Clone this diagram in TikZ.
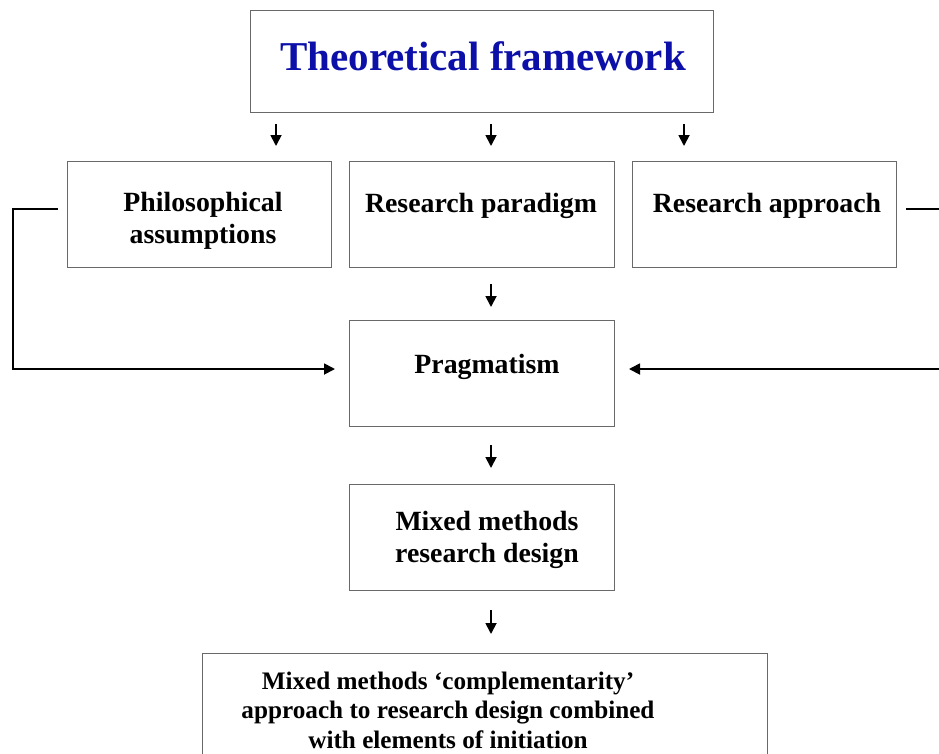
\documentclass[tikz,border=0pt]{standalone}
\usepackage{fontspec}
\setmainfont{Liberation Serif}
\usetikzlibrary{arrows.meta,calc}
\definecolor{titleblue}{RGB}{12,16,168}
\definecolor{boxgray}{RGB}{105,105,105}
\begin{document}
\begin{tikzpicture}[x=1pt,y=-1pt,
  box/.style={draw=boxgray,line width=1pt,rectangle,inner sep=0pt,anchor=north west},
  lbl/.style={font=\bfseries\fontsize{27.8}{32}\selectfont,align=center,anchor=base,inner sep=0pt},
  small/.style={font=\bfseries\fontsize{25.2}{29.5}\selectfont},
  arr/.style={line width=1.8pt,-{Triangle[length=11pt,width=11pt]}}]
\useasboundingbox (0,0) rectangle (939,753);

% boxes
\node[box,minimum width=463,minimum height=102] (tf) at (250,10) {};
\node[box,minimum width=264,minimum height=106] (pa) at (67,161) {};
\node[box,minimum width=265,minimum height=106] (rp) at (349,161) {};
\node[box,minimum width=264,minimum height=106] (ra) at (632,161) {};
\node[box,minimum width=265,minimum height=106] (pr) at (349,320) {};
\node[box,minimum width=265,minimum height=106] (mm) at (349,484) {};
\node[box,minimum width=565,minimum height=150] (cd) at (202,653) {};

% texts (multi-line labels sit on the baseline of their last line)
\node[lbl,font=\bfseries\fontsize{41}{46}\selectfont,text=titleblue] (tf-t) at (483,70) {Theoretical framework};
\node[lbl] (pa-t) at (203,243) {Philosophical\\assumptions};
\node[lbl] (rp-t) at (481,212) {Research paradigm};
\node[lbl] (ra-t) at (767,212) {Research approach};
\node[lbl] (pr-t) at (487,373) {Pragmatism};
\node[lbl] (mm-t) at (487,562) {Mixed methods\\research design};
\node[lbl,small] (cd-t) at (448,748) {Mixed methods ‘complementarity’\\approach to research design combined\\with elements of initiation};

% short vertical arrows between the levels
\draw[arr,shorten <=11pt,shorten >=15pt] (276,0 |- tf.south) -- (276,0 |- pa.north);
\draw[arr,shorten <=11pt,shorten >=15pt] (491,0 |- tf.south) -- (491,0 |- rp.north);
\draw[arr,shorten <=11pt,shorten >=15pt] (684,0 |- tf.south) -- (684,0 |- ra.north);
\draw[arr,shorten <=16pt,shorten >=13pt] (491,0 |- rp.south) -- (491,0 |- pr.north);
\draw[arr,shorten <=18pt,shorten >=16pt] (491,0 |- pr.south) -- (491,0 |- mm.north);
\draw[arr,shorten <=19pt,shorten >=19pt] (491,0 |- mm.south) -- (491,0 |- cd.north);

% side connectors into Pragmatism
\draw[arr] ($(pa.north west)+(-9,48)$) -- (13,209) |- ($(pr.north west)+(-14,49)$);
\draw[arr] ($(ra.north east)+(9,48)$) -- (960,209) |- ($(pr.north east)+(14,49)$);
\end{tikzpicture}
\end{document}
